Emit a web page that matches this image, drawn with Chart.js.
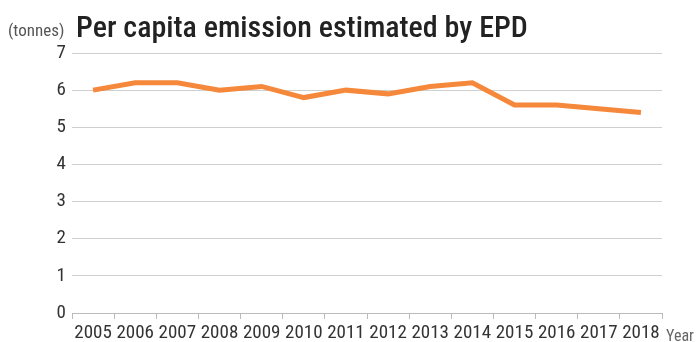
<!DOCTYPE html>
<html>
<head>
<meta charset="utf-8">
<script src="https://cdn.jsdelivr.net/npm/chart.js@4/dist/chart.umd.min.js"></script>
<style>
  html, body { margin: 0; padding: 0; background: #fff; }
  #wrap { position: relative; width: 697px; height: 342px; }
</style>
</head>
<body>
<div id="wrap"><canvas id="c" width="697" height="342"></canvas></div>
<script>
const years = ['2005','2006','2007','2008','2009','2010','2011','2012','2013','2014','2015','2016','2017','2018'];
const perCapita = [6.0, 6.2, 6.2, 6.0, 6.1, 5.8, 6.0, 5.9, 6.1, 6.2, 5.6, 5.6, 5.5, 5.4];
const yTicks = [0, 1, 2, 3, 4, 5, 6, 7];

const FONT = '"Roboto Condensed", "Liberation Sans Narrow", "DejaVu Sans Condensed", "Arial Narrow", sans-serif';

// Title, unit and axis name drawn on the canvas
const labelsPlugin = {
  id: 'labels',
  afterDraw(chart) {
    const ctx = chart.ctx;
    const area = chart.chartArea;
    ctx.save();
    ctx.textBaseline = 'alphabetic';
    ctx.fillStyle = '#555';
    ctx.font = '17px ' + FONT;
    ctx.textAlign = 'left';
    ctx.fillText('(tonnes)', 8, 36);
    ctx.fillStyle = '#222';
    ctx.font = '500 30px ' + FONT;
    ctx.fillText('Per capita emission estimated by EPD', 76, 37);
    ctx.fillStyle = '#666';
    ctx.font = '16px ' + FONT;
    ctx.fillText('Year', area.right + 4, 341);
    ctx.restore();
  }
};

new Chart(document.getElementById('c'), {
  type: 'line',
  data: {
    labels: years,
    datasets: [{
      data: perCapita,
      borderColor: '#F5883A',
      borderWidth: 5,
      pointRadius: 0,
      tension: 0,
      borderJoinStyle: 'miter',
      fill: false
    }]
  },
  options: {
    responsive: false,
    animation: false,
    devicePixelRatio: 1,
    layout: { padding: { top: 53, right: 35, left: 0, bottom: 0 } },
    plugins: { legend: { display: false }, tooltip: { enabled: false }, title: { display: false } },
    scales: {
      x: {
        offset: true,
        grid: { offset: true, drawOnChartArea: false, drawTicks: true, tickLength: 6, color: '#bbb' },
        border: { display: true, color: '#bbb' },
        ticks: { color: '#333', font: { family: FONT, size: 19 }, padding: 3, maxRotation: 0, autoSkip: false },
        afterFit(s) { s.height = 29; }
      },
      y: {
        min: 0, max: 7,
        afterBuildTicks(s) { s.ticks = yTicks.map(v => ({ value: v })); },
        grid: { color: '#cfcfcf', drawTicks: false, lineWidth: 1 },
        border: { display: false },
        ticks: { color: '#333', font: { family: FONT, size: 19 }, padding: 6 },
        afterFit(s) { s.width = 72; }
      }
    }
  },
  plugins: [labelsPlugin]
});
</script>
</body>
</html>
